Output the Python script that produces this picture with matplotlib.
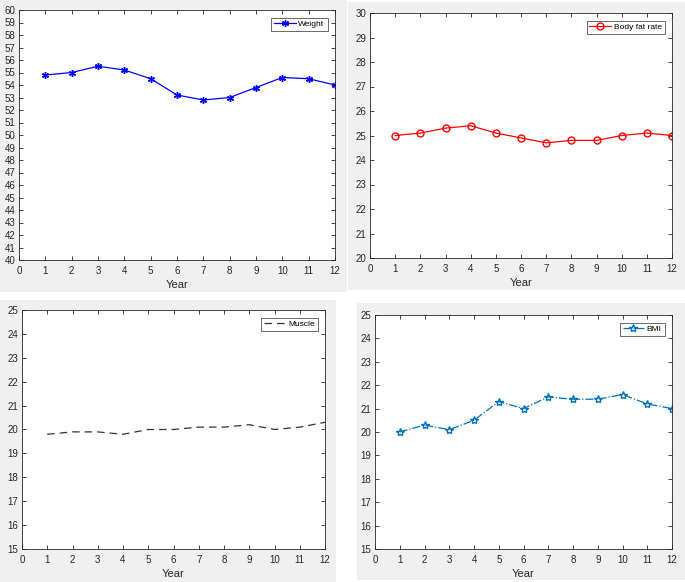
import matplotlib
matplotlib.use("Agg")
import matplotlib.pyplot as plt
from matplotlib.patches import Rectangle

years = list(range(1, 13))
weight = [54.8, 55.0, 55.5, 55.2, 54.5, 53.2, 52.8, 53.0, 53.8, 54.6, 54.5, 54.0]
body_fat = [25.0, 25.1, 25.3, 25.4, 25.1, 24.9, 24.7, 24.8, 24.8, 25.0, 25.1, 25.0]
muscle = [19.8, 19.9, 19.9, 19.8, 20.0, 20.0, 20.1, 20.1, 20.2, 20.0, 20.1, 20.3]
bmi = [20.0, 20.3, 20.1, 20.5, 21.3, 21.0, 21.5, 21.4, 21.4, 21.6, 21.2, 21.0]

plt.rcParams['font.family'] = ['Liberation Sans', 'DejaVu Sans']

W, H = 685, 582
fig = plt.figure(figsize=(W / 100, H / 100), dpi=100)
fig.patch.set_facecolor('white')

def rect(x0, y0, x1, y1):
    return [x0 / W, 1 - y1 / H, (x1 - x0) / W, (y1 - y0) / H]

# gray figure backgrounds
for (x0, y0, x1, y1) in [(0, 0, 347, 292), (348, 2, 685, 290), (0, 300, 336, 582), (357, 303, 685, 580)]:
    r = rect(x0, y0, x1, y1)
    fig.patches.append(Rectangle((r[0], r[1]), r[2], r[3], transform=fig.transFigure,
                                 facecolor='#f0f0f0', edgecolor='none', zorder=-10))

tc = '#262626'

def style(ax, ylo, yhi):
    ax.set_xlim(0, 12)
    ax.set_ylim(ylo, yhi)
    ax.set_xticks(range(0, 13))
    ax.set_yticks(range(ylo, yhi + 1))
    ax.tick_params(direction='in', length=3, width=0.6, labelsize=7, colors=tc,
                   top=True, right=True)
    ax.tick_params(axis='x', pad=4.5)
    ax.tick_params(axis='y', pad=2.5)
    for s in ax.spines.values():
        s.set_color(tc)
        s.set_linewidth(0.6)
    ax.set_xlabel('Year', fontsize=8, color=tc, labelpad=3)
    leg = ax.legend(loc='upper right', fontsize=6, frameon=True, fancybox=False,
                    borderaxespad=0.9, handlelength=2.6, borderpad=0.35, handletextpad=0.3)
    leg.get_frame().set_edgecolor(tc)
    leg.get_frame().set_linewidth(0.6)

ax1 = fig.add_axes(rect(19, 10, 335, 260))
ax1.plot(years, weight, color='#0000ff', marker=(6, 2, 0), markersize=5, markeredgewidth=1.0,
         linewidth=0.9, label='Weight')
style(ax1, 40, 60)

ax2 = fig.add_axes(rect(370, 13, 672, 258))
ax2.plot(years, body_fat, color='#ff0000', marker='o', markersize=5, markerfacecolor='none',
         linewidth=0.9, label='Body fat rate')
style(ax2, 20, 30)

ax3 = fig.add_axes(rect(22, 310, 325, 549))
ax3.plot(years, muscle, color='#333333', linestyle=(0, (6, 4)), linewidth=0.9, label='Muscle')
style(ax3, 15, 25)

ax4 = fig.add_axes(rect(375, 315, 672, 549))
ax4.plot(years, bmi, color='#0072BD', linestyle='-.', marker='*', markersize=6,
         markerfacecolor='none', linewidth=0.9, label='BMI')
style(ax4, 15, 25)

fig.savefig('out.png', dpi=100)
